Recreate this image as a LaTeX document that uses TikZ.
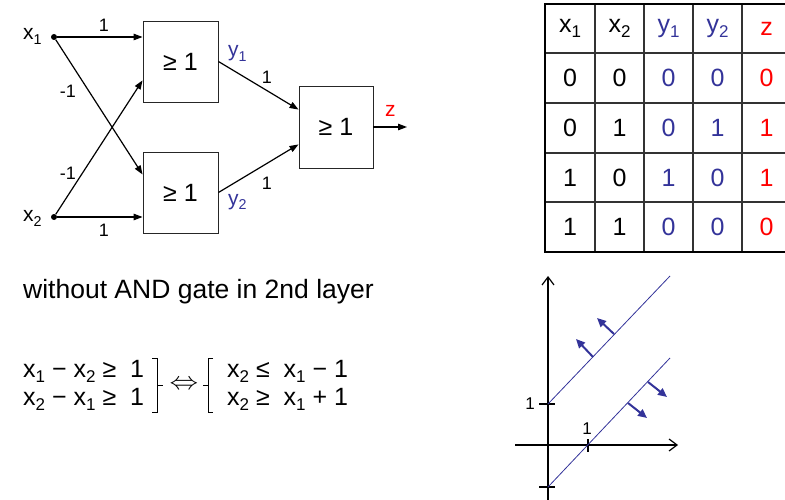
\documentclass[tikz,border=0pt]{standalone}
\usepackage{fontspec}
\setmainfont{Liberation Sans}
\usetikzlibrary{arrows.meta,calc}
\definecolor{nblue}{RGB}{51,51,153}
\definecolor{nred}{RGB}{255,0,0}
\newcommand\sbs[1]{\raisebox{-0.21em}{\scalebox{0.68}{#1}}}
\newcommand\fsz[1]{\fontsize{#1}{#1}\selectfont}
\begin{document}
\begin{tikzpicture}[x=1pt,y=-1pt,
  gate/.style={draw=black!85,line width=0.9pt,minimum width=75pt,minimum height=81pt,inner sep=0pt,font=\fsz{25}},
  dot/.style={circle,fill=black,inner sep=0pt,minimum size=6pt},
  wire/.style={line width=1.2pt,-{Triangle[length=9pt,width=6.5pt]}},
  wlab/.style={font=\fsz{18},inner sep=0pt},
  vlab/.style={font=\fsz{21},inner sep=0pt},
  cell/.style={font=\fsz{25},inner sep=0pt},
  txt/.style={font=\fsz{25},inner sep=0pt},
  axis/.style={line width=1.2pt,-{Straight Barb[length=8pt,width=12pt]}},
  tick/.style={line width=1.2pt},
  bline/.style={draw=nblue,line width=0.8pt},
  barrow/.style={draw=nblue,fill=nblue,line width=2pt,-{Triangle[length=9pt,width=8pt]}},
  brk/.style={line width=1pt},
  tline/.style={line width=1.3pt,draw=black!80},
  tborder/.style={line width=2.8pt,line join=miter}
]
\useasboundingbox (0,0) rectangle (785,500);

% ---------- network ----------
\node[dot] (x1) at (54,37) {};
\node[dot] (x2) at (54,217) {};
\node[vlab,anchor=base west] (lx1) at (23,40) {x\sbs1};
\node[vlab,anchor=base west] (lx2) at (23,222) {x\sbs2};

\node[gate] (g1) at (180.5,61.5) {≥ 1};
\node[gate] (g2) at (180.5,192.5) {≥ 1};
\node[gate,minimum width=74pt,minimum height=82pt] (g3) at (336,127) {≥ 1};
\coordinate (out) at (407,127);

\draw[wire] (x1) -- (x1 -| g1.west);
\draw[wire] (x1) -- ($(g2.north west)!0.28!(g2.south west)$);
\draw[wire] (x2) -- ($(g1.north west)!0.73!(g1.south west)$);
\draw[wire] (x2) -- (x2 -| g2.west);
\draw[wire] (g1.east) -- ($(g3.north west)!0.29!(g3.south west)$);
\draw[wire] (g2.east) -- ($(g3.north west)!0.71!(g3.south west)$);
\draw[wire] (g3.east) -- (out);

\node[wlab] (w1) at (104,25) {1};
\node[wlab] (w2) at (68,91) {-1};
\node[wlab] (w3) at (68,173) {-1};
\node[wlab] (w4) at (104,230) {1};
\node[wlab] (w5) at (267,77) {1};
\node[wlab] (w6) at (267,183) {1};
\node[vlab,anchor=base west,text=nblue] (ly1) at (228,57) {y\sbs1};
\node[vlab,anchor=base west,text=nblue] (ly2) at (228,205) {y\sbs2};
\node[vlab,anchor=base west,text=nred] (lz) at (385,117) {z};

% ---------- truth table ----------
\foreach \xx in {595,644,693,742} \draw[tline] (\xx,4) -- (\xx,252);
\foreach \yy in {53,103,153,202} \draw[tline] (545,\yy) -- (790,\yy);
\draw[tborder] (790,4) -- (545,4) -- (545,252) -- (790,252);

\node[cell] (h1) at (570,28.5) {x\sbs1};
\node[cell] (h2) at (619.5,28.5) {x\sbs2};
\node[cell,text=nblue] (h3) at (668.5,28.5) {y\sbs1};
\node[cell,text=nblue] (h4) at (717.5,28.5) {y\sbs2};
\node[cell,text=nred] (h5) at (766.5,28.5) {z};

\foreach \r/\yy/\a/\b/\c/\d/\e in {1/78/0/0/0/0/0,2/128/0/1/0/1/1,3/177.5/1/0/1/0/1,4/227/1/1/0/0/0}{
  \node[cell] (c\r-1) at (570,\yy) {\a};
  \node[cell] (c\r-2) at (619.5,\yy) {\b};
  \node[cell,text=nblue] (c\r-3) at (668.5,\yy) {\c};
  \node[cell,text=nblue] (c\r-4) at (717.5,\yy) {\d};
  \node[cell,text=nred] (c\r-5) at (766.5,\yy) {\e};
}

% ---------- text and equations ----------
\node[txt,font=\fsz{26.5},anchor=base west] (cap) at (23,298) {without AND gate in 2nd layer};
\node[txt,anchor=base west] (e1) at (23,377) {x\sbs1 − x\sbs2 ≥ ~1};
\node[txt,anchor=base west] (e2) at (23,405) {x\sbs2 − x\sbs1 ≥ ~1};
\node[txt,anchor=base west] (e3) at (227,377) {x\sbs2 ≤ ~x\sbs1 − 1};
\node[txt,anchor=base west] (e4) at (227,405) {x\sbs2 ≥ ~x\sbs1 + 1};
\draw[brk] (152,358) -- (157,358) -- (157,412) -- (152,412);
\draw[brk] (157,385) -- (163,385);
\draw[brk] (213,358) -- (208,358) -- (208,412) -- (213,412);
\draw[brk] (208,385) -- (203,385);
\node[txt] (iff) at (184,385) {\scalebox{1.15}[1]{$\Leftrightarrow$}};

% ---------- plot ----------
\draw[axis] (548,500) -- (548,276);
\draw[axis] (515,445) -- (678,445);
\draw[tick] (539,404) -- (555,404);
\draw[tick] (539,487) -- (555,487);
\draw[tick] (588,439) -- (588,452);
\node[font=\fsz{17},inner sep=0pt] (t1) at (530,404) {1};
\node[font=\fsz{17},inner sep=0pt] (t2) at (587,429) {1};
\draw[bline] (548,404) -- (670,276);
\draw[bline] (548,487) -- (670,358);
\draw[barrow] (593,357) -- (576,339);
\draw[barrow] (614,334) -- (597,318);
\draw[barrow] (628,403) -- (647,418);
\draw[barrow] (648,382) -- (667,397);
\end{tikzpicture}
\end{document}
